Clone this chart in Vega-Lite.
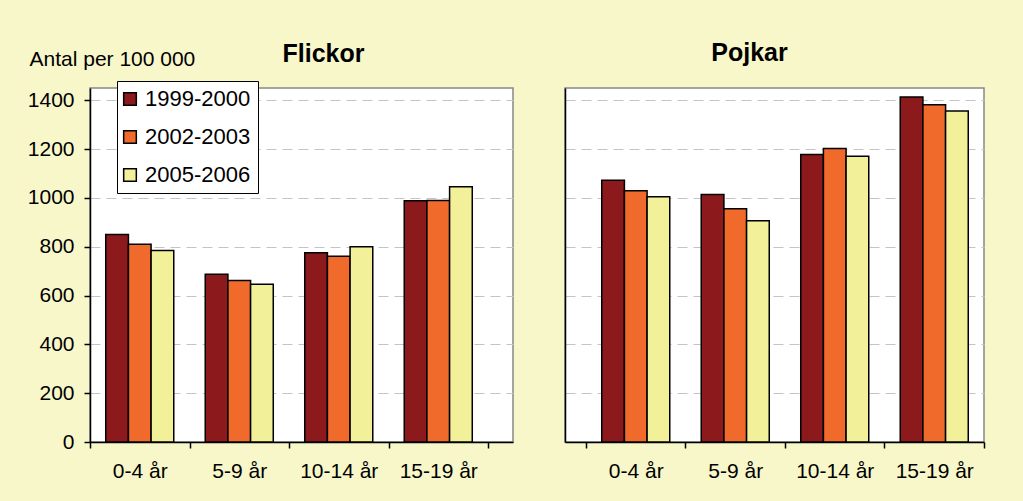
{
  "$schema": "https://vega.github.io/schema/vega-lite/v6.json",
  "background": "#F8F7CA",
  "padding": {"left": 26, "top": 40, "right": 40, "bottom": 25},
  "datasets": {
    "flickor": [
      {"alder": "0-4 år", "period": "1999-2000", "antal": 850},
      {"alder": "0-4 år", "period": "2002-2003", "antal": 810},
      {"alder": "0-4 år", "period": "2005-2006", "antal": 784},
      {"alder": "5-9 år", "period": "1999-2000", "antal": 687},
      {"alder": "5-9 år", "period": "2002-2003", "antal": 661},
      {"alder": "5-9 år", "period": "2005-2006", "antal": 646},
      {"alder": "10-14 år", "period": "1999-2000", "antal": 775},
      {"alder": "10-14 år", "period": "2002-2003", "antal": 761},
      {"alder": "10-14 år", "period": "2005-2006", "antal": 800},
      {"alder": "15-19 år", "period": "1999-2000", "antal": 988},
      {"alder": "15-19 år", "period": "2002-2003", "antal": 989},
      {"alder": "15-19 år", "period": "2005-2006", "antal": 1046}
    ],
    "pojkar": [
      {"alder": "0-4 år", "period": "1999-2000", "antal": 1072},
      {"alder": "0-4 år", "period": "2002-2003", "antal": 1029},
      {"alder": "0-4 år", "period": "2005-2006", "antal": 1005},
      {"alder": "5-9 år", "period": "1999-2000", "antal": 1014},
      {"alder": "5-9 år", "period": "2002-2003", "antal": 955},
      {"alder": "5-9 år", "period": "2005-2006", "antal": 906},
      {"alder": "10-14 år", "period": "1999-2000", "antal": 1178},
      {"alder": "10-14 år", "period": "2002-2003", "antal": 1202},
      {"alder": "10-14 år", "period": "2005-2006", "antal": 1170},
      {"alder": "15-19 år", "period": "1999-2000", "antal": 1413},
      {"alder": "15-19 år", "period": "2002-2003", "antal": 1381},
      {"alder": "15-19 år", "period": "2005-2006", "antal": 1356}
    ]
  },
  "config": {
    "font": "Liberation Sans",
    "view": {"fill": "white", "stroke": "#888888", "strokeWidth": 1.5},
    "axis": {
      "labelFont": "Liberation Sans",
      "labelFontSize": 21,
      "labelColor": "black",
      "domainColor": "black",
      "domainWidth": 1.5,
      "tickColor": "black",
      "tickWidth": 1.5,
      "tickSize": 6,
      "gridColor": "#C4C4C4",
      "gridDash": [10, 6],
      "gridWidth": 1
    },
    "title": {"font": "Liberation Sans", "fontSize": 25, "fontWeight": "bold", "color": "black", "frame": "group", "baseline": "alphabetic"}
  },
  "resolve": {"legend": {"color": "independent"}},
  "spacing": 50,
  "hconcat": [
    {
      "data": {"name": "flickor"},
      "width": 423,
      "height": 354,
      "title": {"text": "Flickor", "dx": 22, "offset": -19},
      "mark": {"type": "bar", "stroke": "black", "strokeWidth": 1.5},
      "encoding": {
        "x": {
          "field": "alder", "type": "nominal", "sort": ["0-4 år", "5-9 år", "10-14 år", "15-19 år"],
          "scale": {"paddingInner": 0, "paddingOuter": 0.1256, "align": 0},
          "axis": {"title": null, "labelAngle": 0, "tickBand": "extent", "labelPadding": 12, "grid": false}
        },
        "xOffset": {
          "field": "period", "type": "nominal",
          "scale": {"paddingInner": 0, "paddingOuter": 0.694}
        },
        "y": {
          "field": "antal", "type": "quantitative",
          "scale": {"domain": [0, 1450], "nice": false},
          "axis": {
            "values": [0, 200, 400, 600, 800, 1000, 1200, 1400],
            "format": "d",
            "grid": true,
            "labelPadding": 10,
            "title": "Antal per 100 000",
            "titleAngle": 0,
            "titleAlign": "left",
            "titleBaseline": "alphabetic",
            "titleFontSize": 21,
            "titleFontWeight": "normal",
            "titleColor": "black",
            "titleX": -61,
            "titleY": -23
          }
        },
        "color": {
          "field": "period", "type": "nominal",
          "scale": {"domain": ["1999-2000", "2002-2003", "2005-2006"], "range": ["#8C1A1C", "#F06A2C", "#F2F098"]},
          "legend": {
            "title": null,
            "orient": "none",
            "legendX": 27,
            "legendY": -7,
            "direction": "vertical",
            "fillColor": "white",
            "strokeColor": "black",
            "padding": 7,
            "rowPadding": 16,
            "symbolType": "square",
            "symbolSize": 160,
            "symbolOffset": -5,
            "symbolStrokeColor": "black",
            "symbolStrokeWidth": 1.5,
            "labelFontSize": 22,
            "labelColor": "black",
            "labelOffset": 4,
            "labelFont": "Liberation Sans"
          }
        }
      }
    },
    {
      "data": {"name": "pojkar"},
      "width": 419,
      "height": 354,
      "title": {"text": "Pojkar", "dx": -25, "offset": 22},
      "mark": {"type": "bar", "stroke": "black", "strokeWidth": 1.5},
      "encoding": {
        "x": {
          "field": "alder", "type": "nominal", "sort": ["0-4 år", "5-9 år", "10-14 år", "15-19 år"],
          "scale": {"paddingInner": 0, "paddingOuter": 0.1055, "align": 1},
          "axis": {"title": null, "labelAngle": 0, "tickBand": "extent", "labelPadding": 12, "grid": false}
        },
        "xOffset": {
          "field": "period", "type": "nominal",
          "scale": {"paddingInner": 0, "paddingOuter": 0.694}
        },
        "y": {
          "field": "antal", "type": "quantitative",
          "scale": {"domain": [0, 1450], "nice": false},
          "axis": {
            "values": [0, 200, 400, 600, 800, 1000, 1200, 1400],
            "grid": true,
            "labels": false,
            "ticks": false,
            "title": null
          }
        },
        "color": {
          "field": "period", "type": "nominal",
          "scale": {"domain": ["1999-2000", "2002-2003", "2005-2006"], "range": ["#8C1A1C", "#F06A2C", "#F2F098"]},
          "legend": null
        }
      }
    }
  ]
}
